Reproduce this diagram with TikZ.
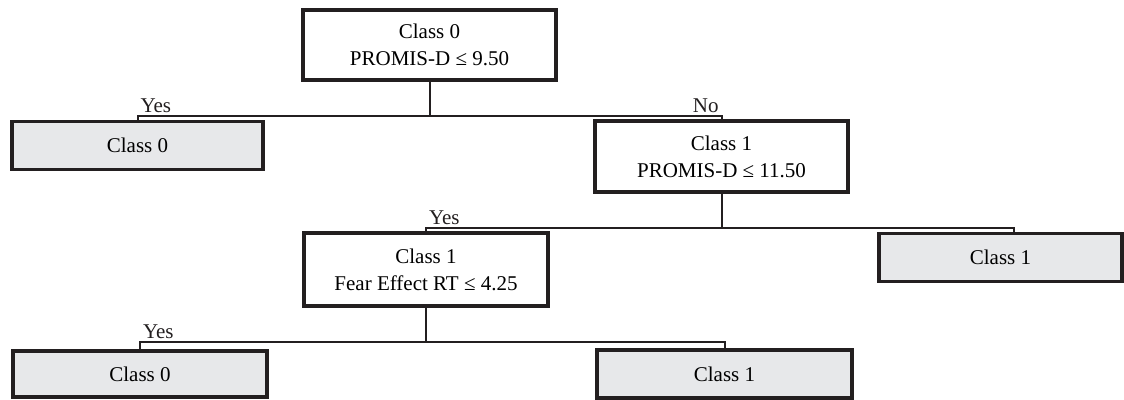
\documentclass[tikz,border=0pt]{standalone}
\usepackage{fontspec}
\setmainfont{Liberation Serif}
\usepackage{tikz}
\usetikzlibrary{positioning}
\definecolor{leafgray}{RGB}{231,232,234}
\definecolor{ink}{RGB}{35,31,32}

\begin{document}
\begin{tikzpicture}[x=0.5pt,y=-0.5pt,
  split/.style={draw=ink,line width=1.8pt,fill=white,align=center,inner sep=0pt,font=\fontsize{10.5}{13.5}\selectfont},
  leaf/.style={split,fill=leafgray,minimum height=24pt},
  branch/.style={ink,line width=1pt},
  ans/.style={font=\fontsize{10.5}{12}\selectfont,inner sep=1pt}]
  \useasboundingbox (0,0) rectangle (1124,400);
  \node[split,minimum width=126.5pt,minimum height=35pt] (root) at (429.5,45) {Class 0\\PROMIS-D ≤ 9.50};
  \node[leaf,minimum width=125.5pt] (leafA) at (137.5,145.5) {Class 0};
  \node[split,minimum width=126.5pt,minimum height=35.5pt] (nodeB) at (721.5,156.5) {Class 1\\PROMIS-D ≤ 11.50};
  \node[split,minimum width=122pt,minimum height=36.5pt] (nodeC) at (426,269.5) {Class 1\\Fear Effect RT ≤ 4.25};
  \node[leaf,minimum width=121.5pt] (leafD) at (1000.5,257.5) {Class 1};
  \node[leaf,minimum width=127pt,minimum height=23pt] (leafE) at (140,374) {Class 0};
  \node[leaf,minimum width=127.5pt] (leafF) at (724.5,374) {Class 1};
  \foreach \p/\c/\a/\t in {root/leafA/south west/Yes,root/nodeB/south east/No,nodeB/nodeC/south west/Yes,nodeC/leafE/south west/Yes} {\draw[branch] (\p.south) -- ++(0,34) -| node[ans,pos=0.5,anchor=\a] {\t} (\c.north);}
  \draw[branch] (nodeB.south) -- ++(0,34) -| ([xshift=6.5pt]leafD.north);
  \draw[branch] (nodeC.south) -- ++(0,34) -| (leafF.north);
\end{tikzpicture}
\end{document}
